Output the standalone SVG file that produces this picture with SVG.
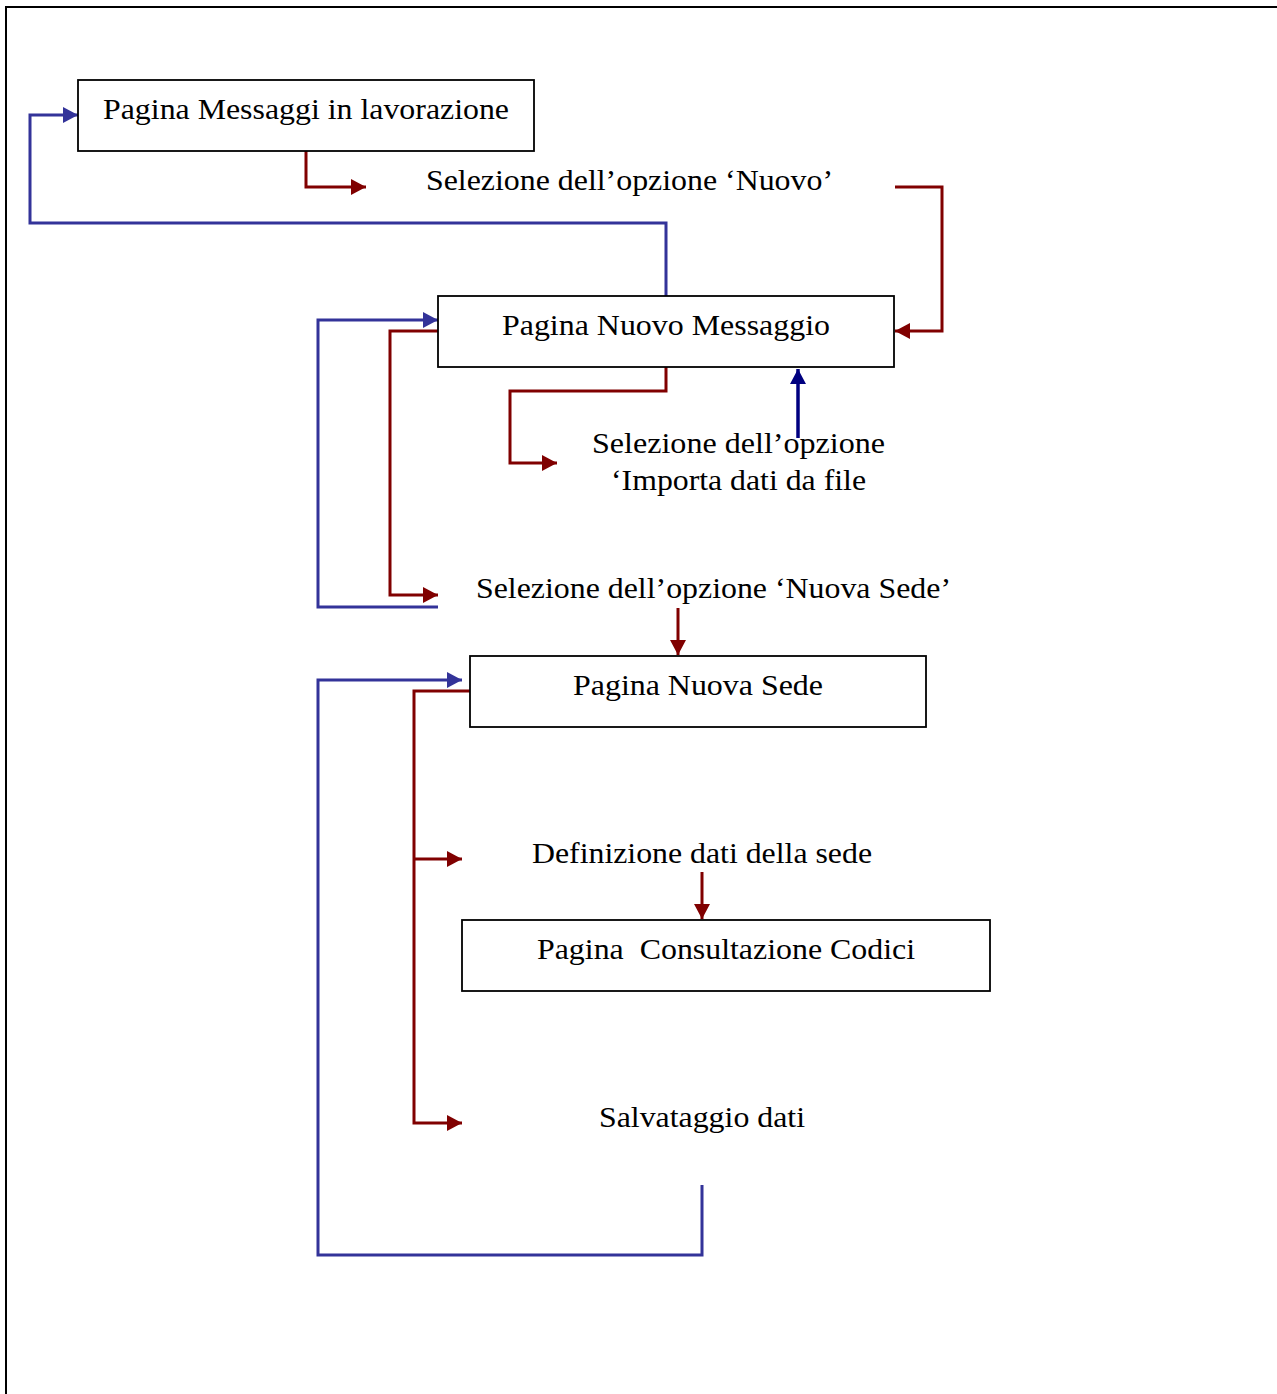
<svg xmlns="http://www.w3.org/2000/svg" width="1277" height="1394" viewBox="0 0 1277 1394">
<style>
.box{fill:#fff;stroke:#000;stroke-width:1.8}
.t{font-family:"Liberation Serif","Times New Roman",serif;font-size:30px;fill:#000}
.r{fill:none;stroke:#800000;stroke-width:3}
.b{fill:none;stroke:#333399;stroke-width:3}
.n{fill:none;stroke:#000080;stroke-width:3.5}
</style>
<defs>
<marker id="ar" markerUnits="userSpaceOnUse" markerWidth="16" markerHeight="16" refX="15" refY="8" orient="auto"><path d="M0,0 L15,8 L0,16 Z" fill="#800000"/></marker>
<marker id="ab" markerUnits="userSpaceOnUse" markerWidth="16" markerHeight="16" refX="15" refY="8" orient="auto"><path d="M0,0 L15,8 L0,16 Z" fill="#333399"/></marker>
<marker id="an" markerUnits="userSpaceOnUse" markerWidth="16" markerHeight="16" refX="15" refY="8" orient="auto"><path d="M0,0 L15,8 L0,16 Z" fill="#000080"/></marker>
</defs>
<rect x="0" y="0" width="1277" height="1394" fill="#fff"/>
<rect x="6" y="7" width="1290" height="1410" fill="none" stroke="#000" stroke-width="2"/>
<g id="connectors">
<path class="r" d="M306,151 V187 H366" marker-end="url(#ar)"/>
<path class="r" d="M895,187 H942 V331 H895" marker-end="url(#ar)"/>
<path class="b" d="M666,296 V223 H30 V115 H78" marker-end="url(#ab)"/>
<path class="b" d="M438,607 H318 V320 H438" marker-end="url(#ab)"/>
<path class="r" d="M438,331 H390 V595 H438" marker-end="url(#ar)"/>
<path class="r" d="M666,367 V391 H510 V463 H557" marker-end="url(#ar)"/>
<path class="n" d="M798,438 V369" marker-end="url(#an)"/>
<path class="r" d="M678,608 V655" marker-end="url(#ar)"/>
<path class="b" d="M702,1185 V1255 H318 V680 H462" marker-end="url(#ab)"/>
<path class="r" d="M470,691 H414 V1123 H462" marker-end="url(#ar)"/>
<path class="r" d="M414,859 H462" marker-end="url(#ar)"/>
<path class="r" d="M702,872 V919" marker-end="url(#ar)"/>
</g>
<g id="n1"><rect class="box" x="78" y="80" width="456" height="71"/><text class="t" x="103" y="119" textLength="406" lengthAdjust="spacingAndGlyphs">Pagina Messaggi in lavorazione</text></g>
<g id="n2"><rect class="box" x="438" y="296" width="456" height="71"/><text class="t" x="502" y="335" textLength="328" lengthAdjust="spacingAndGlyphs">Pagina Nuovo Messaggio</text></g>
<g id="n3"><rect class="box" x="470" y="656" width="456" height="71"/><text class="t" x="573" y="695" textLength="250" lengthAdjust="spacingAndGlyphs">Pagina Nuova Sede</text></g>
<g id="n4"><rect class="box" x="462" y="920" width="528" height="71"/><text class="t" x="537" y="959" textLength="378" lengthAdjust="spacingAndGlyphs" xml:space="preserve">Pagina  Consultazione Codici</text></g>
<g id="l1"><text class="t" x="426" y="190" textLength="407" lengthAdjust="spacingAndGlyphs">Selezione dell’opzione ‘Nuovo’</text></g>
<g id="l2"><text class="t" x="592" y="453" textLength="293" lengthAdjust="spacingAndGlyphs">Selezione dell’opzione</text><text class="t" x="611" y="490" textLength="255" lengthAdjust="spacingAndGlyphs">‘Importa dati da file</text></g>
<g id="l3"><text class="t" x="476" y="598" textLength="475" lengthAdjust="spacingAndGlyphs">Selezione dell’opzione ‘Nuova Sede’</text></g>
<g id="l4"><text class="t" x="532" y="863" textLength="340" lengthAdjust="spacingAndGlyphs">Definizione dati della sede</text></g>
<g id="l5"><text class="t" x="599" y="1127" textLength="206" lengthAdjust="spacingAndGlyphs">Salvataggio dati</text></g>
</svg>
